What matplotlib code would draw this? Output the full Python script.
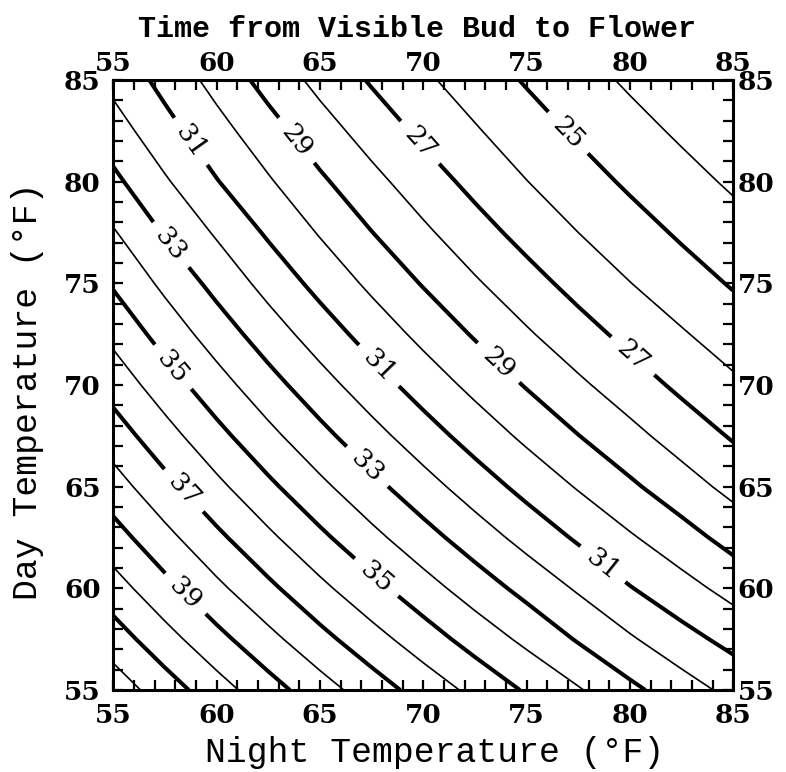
"""Contour chart: time from visible bud to flower vs night/day temperature."""

import matplotlib

matplotlib.use("Agg")
import matplotlib.pyplot as plt
import numpy as np
from matplotlib.ticker import MultipleLocator
from matplotlib.transforms import ScaledTranslation


# Days on a 2.5 degree grid.
# rows = day temperature (55 -> 85), cols = night temperature (55 -> 85)
NIGHT_TEMPS = [55, 57.5, 60, 62.5, 65, 67.5, 70, 72.5, 75, 77.5, 80, 82.5, 85]
DAY_TEMPS = [55, 57.5, 60, 62.5, 65, 67.5, 70, 72.5, 75, 77.5, 80, 82.5, 85]
DAYS = [
    [42.57, 41.49, 40.43, 39.41, 38.43, 37.50, 36.60, 35.74, 34.89, 34.09, 33.23, 32.46, 31.71],
    [41.49, 40.38, 39.31, 38.29, 37.31, 36.38, 35.48, 34.60, 33.77, 32.91, 32.12, 31.35, 30.69],
    [40.43, 39.31, 38.23, 37.22, 36.24, 35.30, 34.40, 33.53, 32.69, 31.88, 31.05, 30.36, 29.66],
    [39.41, 38.29, 37.22, 36.20, 35.21, 34.27, 33.37, 32.50, 31.66, 30.86, 30.11, 29.39, 28.64],
    [38.43, 37.31, 36.24, 35.21, 34.23, 33.29, 32.39, 31.52, 30.69, 29.92, 29.17, 28.43, 27.71],
    [37.50, 36.38, 35.30, 34.27, 33.29, 32.35, 31.45, 30.59, 29.79, 29.02, 28.29, 27.57, 26.90],
    [36.60, 35.48, 34.40, 33.37, 32.39, 31.45, 30.56, 29.73, 28.93, 28.18, 27.47, 26.79, 26.17],
    [35.74, 34.60, 33.53, 32.50, 31.52, 30.59, 29.73, 28.90, 28.12, 27.39, 26.72, 26.09, 25.53],
    [34.89, 33.77, 32.69, 31.66, 30.69, 29.79, 28.93, 28.12, 27.37, 26.67, 26.02, 25.45, 24.91],
    [34.09, 32.91, 31.88, 30.86, 29.92, 29.02, 28.18, 27.39, 26.67, 26.00, 25.42, 24.86, 24.35],
    [33.23, 32.12, 31.05, 30.11, 29.17, 28.29, 27.47, 26.72, 26.02, 25.42, 24.84, 24.32, 23.86],
    [32.46, 31.35, 30.36, 29.39, 28.43, 27.57, 26.79, 26.09, 25.45, 24.86, 24.32, 23.85, 23.46],
    [31.71, 30.69, 29.66, 28.64, 27.71, 26.90, 26.17, 25.53, 24.91, 24.35, 23.86, 23.46, 23.08],
]
THIN_LEVELS = [24, 26, 28, 30, 32, 34, 36, 38, 40, 42]
THICK_LEVELS = [25, 27, 29, 31, 33, 35, 37, 39, 41]

# where the inline labels sit (night, day)
LABEL_SPOTS = [
    (58.5, 81.8), (67.7, 70.8), (78.7, 61.2),
    (63.7, 81.9), (73.55, 71.0),
    (69.7, 81.8), (80.2, 71.5),
    (76.9, 82.3),
    (57.8, 76.9), (67.3, 66.0),
    (57.9, 70.9), (67.7, 60.5),
    (58.6, 65.0),
    (58.55, 59.8),
]

TICK_FONT = dict(family="DejaVu Serif", weight="bold", size=19)
LABEL_FONT = dict(family="Liberation Mono", size=25)


def main():
    figure = plt.figure(figsize=(7.86, 7.72), dpi=100)
    axes = figure.add_axes([0.1441, 0.1062, 0.7888, 0.7902])
    _draw_contours(axes)
    _style_axes(figure, axes)
    _add_text(figure)
    figure.savefig("out.png", dpi=100)


def _draw_contours(axes):
    night, day = np.meshgrid(NIGHT_TEMPS, DAY_TEMPS)
    days = np.array(DAYS)
    axes.contour(
        night, day, days, levels=THIN_LEVELS, colors="black", linewidths=1.2
    )
    thick = axes.contour(
        night, day, days, levels=THICK_LEVELS, colors="black", linewidths=2.9
    )
    labels = axes.clabel(
        thick, manual=LABEL_SPOTS, fmt="%d", inline=True, inline_spacing=12,
        fontsize=19,
    )
    for label in labels:
        label.set_family("DejaVu Serif")


def _style_axes(figure, axes):
    axes.set_xlim(55, 85)
    axes.set_ylim(55, 85)
    for axis in (axes.xaxis, axes.yaxis):
        axis.set_major_locator(MultipleLocator(5))
        axis.set_minor_locator(MultipleLocator(1))
    axes.tick_params(
        which="both", direction="in", top=True, right=True,
        labeltop=True, labelright=True, width=1.6, length=7,
    )
    axes.tick_params(axis="both", which="major", pad=9)
    for label in axes.get_xticklabels() + axes.get_yticklabels():
        label.set(**TICK_FONT)
    for spine in axes.spines.values():
        spine.set_linewidth(2.2)

    # the right and top labels hug the frame more than left and bottom
    _nudge(figure, [t.label2 for t in axes.yaxis.get_major_ticks()], -6, 0)
    _nudge(figure, [t.label2 for t in axes.xaxis.get_major_ticks()], 0, -6)


def _nudge(figure, labels, dx_points, dy_points):
    offset = ScaledTranslation(
        dx_points / 72, dy_points / 72, figure.dpi_scale_trans
    )
    for label in labels:
        label.set_transform(label.get_transform() + offset)


def _add_text(figure):
    figure.text(
        0.531, 0.952, "Time from Visible Bud to Flower", ha="center",
        va="baseline", family="Liberation Mono", weight="bold", size=21.6,
    )
    figure.text(
        0.5534, 0.013, "Night Temperature (°F)", ha="center", va="baseline",
        **LABEL_FONT,
    )
    figure.text(
        0.047, 0.4935, "Day Temperature (°F)", ha="center", va="baseline",
        rotation=90, rotation_mode="anchor", **LABEL_FONT,
    )


if __name__ == "__main__":
    main()
